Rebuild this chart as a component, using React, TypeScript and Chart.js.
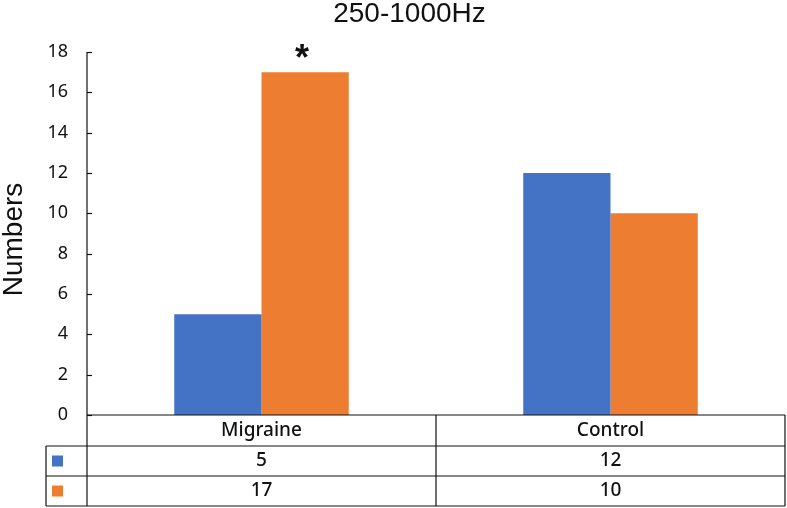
import { useEffect, useRef } from 'react';
import { Chart, registerables } from 'chart.js';

Chart.register(...registerables);

const chartTitle = '250-1000Hz';
const yAxisLabel = 'Numbers';
const categories = ['Migraine', 'Control'];
const seriesBlue = [5, 12];
const seriesOrange = [17, 10];
const seriesColors = ['#4472C4', '#ED7D31'];
const yMin = 0;
const yMax = 18;
const yStep = 2;
const significanceMarks = [{ dataset: 1, index: 0, label: '*' }];

const LINE = '#111111';
const SANS = '"Noto Sans", "Open Sans", sans-serif';
const TABLE_FONT = `500 19px ${SANS}`;

const overlayPlugin = {
  id: 'overlay',
  afterDraw(chart: any) {
    const { ctx, chartArea, scales } = chart;
    const x = scales.x;
    const y = scales.y;
    const left = chartArea.left;
    const right = chartArea.right;
    const bottom = chartArea.bottom;
    const legendLeft = left - 41;
    const rowH = [31, 30, 30];
    const rowTop = [bottom, bottom + rowH[0], bottom + rowH[0] + rowH[1]];
    const tableBottom = rowTop[2] + rowH[2];
    const catW = (right - left) / categories.length;

    ctx.save();
    ctx.fillStyle = '#111';
    ctx.font = '28px "Liberation Sans", Arial, sans-serif';
    ctx.textAlign = 'center';
    ctx.textBaseline = 'middle';
    ctx.fillText(chartTitle, chart.width / 2 + 16, 14);

    ctx.save();
    ctx.translate(14, (chartArea.top + chartArea.bottom) / 2 + 6);
    ctx.rotate(-Math.PI / 2);
    ctx.font = '28px "Liberation Sans", Arial, sans-serif';
    ctx.fillText(yAxisLabel, 0, 0);
    ctx.restore();

    ctx.strokeStyle = LINE;
    ctx.lineWidth = 1.2;
    y.ticks.forEach((t: any) => {
      const py = Math.round(y.getPixelForValue(t.value)) + 0.5;
      ctx.beginPath();
      ctx.moveTo(left, py);
      ctx.lineTo(left + 5, py);
      ctx.stroke();
    });

    ctx.beginPath();
    ctx.moveTo(left, chartArea.top);
    ctx.lineTo(left, tableBottom);
    ctx.stroke();

    ctx.beginPath();
    ctx.moveTo(left, bottom);
    ctx.lineTo(right, bottom);
    for (let r = 1; r <= 3; r++) {
      const yy = r < 3 ? rowTop[r] : tableBottom;
      ctx.moveTo(legendLeft, yy);
      ctx.lineTo(right, yy);
    }
    ctx.moveTo(legendLeft, rowTop[1]);
    ctx.lineTo(legendLeft, tableBottom);
    for (let i = 1; i <= categories.length; i++) {
      const xx = x.getPixelForValue(i - 1) + catW / 2;
      ctx.moveTo(xx, bottom);
      ctx.lineTo(xx, tableBottom);
    }
    ctx.stroke();

    ctx.fillStyle = '#111';
    ctx.font = TABLE_FONT;
    ctx.textAlign = 'center';
    ctx.textBaseline = 'middle';
    const seriesList = [seriesBlue, seriesOrange];
    categories.forEach((c, i) => {
      const cx = x.getPixelForValue(i);
      ctx.fillText(c, cx, rowTop[0] + rowH[0] / 2);
      seriesList.forEach((s, k) => {
        ctx.fillText(String(s[i]), cx, rowTop[k + 1] + rowH[k + 1] / 2);
      });
    });
    seriesColors.forEach((col, k) => {
      ctx.fillStyle = col;
      const cy = rowTop[k + 1] + rowH[k + 1] / 2;
      ctx.fillRect(legendLeft + 6, cy - 5.5, 11, 11);
    });

    ctx.fillStyle = '#111';
    ctx.font = 'bold 36px "Liberation Sans", Arial, sans-serif';
    ctx.textAlign = 'center';
    ctx.textBaseline = 'alphabetic';
    significanceMarks.forEach((m) => {
      const bar = chart.getDatasetMeta(m.dataset).data[m.index];
      const met = ctx.measureText(m.label);
      const center = bar.y - 21;
      const base = center - (met.actualBoundingBoxDescent - met.actualBoundingBoxAscent) / 2;
      ctx.fillText(m.label, bar.x - 3, base);
    });
    ctx.restore();
  },
};

export default function App() {
  const ref = useRef<HTMLCanvasElement | null>(null);
  useEffect(() => {
    let chart: any = null;
    let cancelled = false;
    const build = () => {
      if (cancelled || !ref.current) return;
      chart = new Chart(ref.current, {
        type: 'bar',
        data: {
          labels: categories,
          datasets: [
            { data: seriesBlue, backgroundColor: seriesColors[0], borderWidth: 0, barPercentage: 1, categoryPercentage: 0.5 },
            { data: seriesOrange, backgroundColor: seriesColors[1], borderWidth: 0, barPercentage: 1, categoryPercentage: 0.5 },
          ],
        },
        options: {
          responsive: false,
          devicePixelRatio: 1,
          animation: false,
          layout: { padding: { top: 52, right: 2, left: 0, bottom: 0 } },
          plugins: {
            legend: { display: false },
            tooltip: { enabled: false },
            title: { display: false },
          },
          scales: {
            x: {
              ticks: { display: false },
              grid: { display: false, drawTicks: false },
              border: { display: false },
              afterFit: (s: any) => {
                s.height = 93;
              },
            },
            y: {
              min: yMin,
              max: yMax,
              ticks: {
                stepSize: yStep,
                color: '#111',
                padding: 19,
                font: { family: SANS, size: 18 },
              },
              grid: { display: false, drawTicks: false },
              border: { display: false },
              title: { display: false },
              afterFit: (s: any) => {
                s.width = 87;
              },
            },
          },
        },
        plugins: [overlayPlugin],
      } as any);
    };
    const fonts: any = (document as any).fonts;
    if (fonts && fonts.load) {
      Promise.all([
        fonts.load('500 19px "Noto Sans"'),
        fonts.load('18px "Noto Sans"'),
        fonts.load('28px "Liberation Sans"'),
        fonts.load('bold 36px "Liberation Sans"'),
      ])
        .catch(() => null)
        .then(build);
    } else {
      build();
    }
    return () => {
      cancelled = true;
      if (chart) chart.destroy();
    };
  }, []);
  return (
    <div style={{ position: 'absolute', left: 0, top: 0, width: 787, height: 508, background: '#fff' }}>
      <canvas ref={ref} width={787} height={508} style={{ display: 'block' }} />
    </div>
  );
}
